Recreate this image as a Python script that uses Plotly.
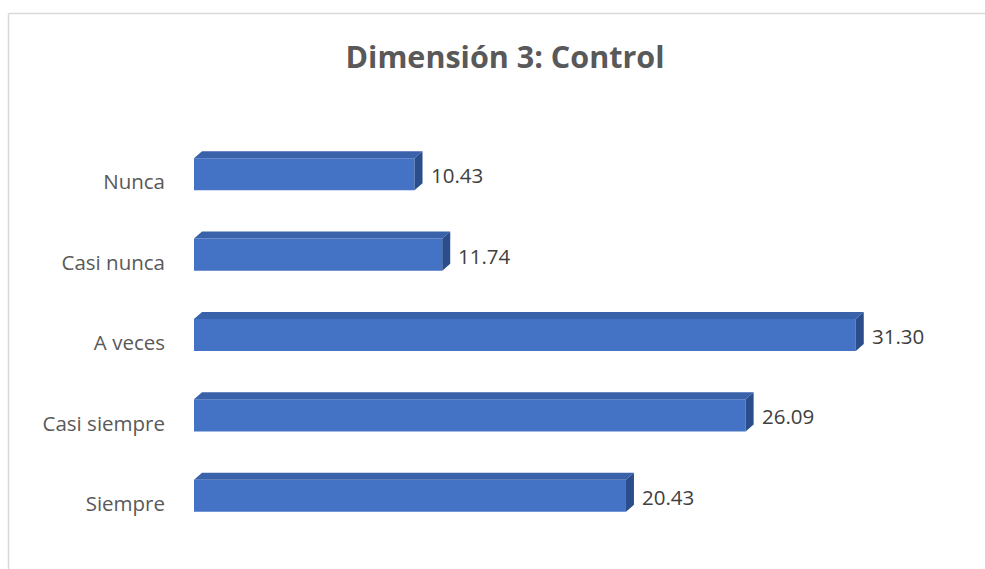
import plotly.graph_objects as go

categories = ["Nunca", "Casi nunca", "A veces", "Casi siempre", "Siempre"]
values = [10.43, 11.74, 31.30, 26.09, 20.43]
title_text = "Dimensión 3: Control"

W, H = 985, 569
ML, MR, MT, MB = 194, 51, 126, 25
XR = [0, 35]
YR = [-0.6, 4.6]
pw = W - ML - MR
ph = H - MT - MB
pxu = pw / (XR[1] - XR[0])
pyu = ph / (YR[1] - YR[0])

bw = 0.4
dx = 8 / pxu
dy = 7 / pyu

FRONT = "#4472c4"
TOP = "#3a62ab"
SIDE = "#2b4d8c"
FONT = "Open Sans"

n = len(categories)
ypos = [n - 1 - i for i in range(n)]

fig = go.Figure()
fig.add_trace(go.Bar(x=values, y=ypos, orientation="h", width=bw,
                     marker=dict(color=FRONT, line=dict(width=0)),
                     hoverinfo="skip", showlegend=False))
for v, y in zip(values, ypos):
    yt = y + bw / 2
    yb = y - bw / 2
    fig.add_trace(go.Scatter(x=[0, v, v + dx, dx, 0], y=[yt, yt, yt + dy, yt + dy, yt],
                             fill="toself", fillcolor=TOP, mode="lines",
                             line=dict(width=0, color=TOP), hoverinfo="skip", showlegend=False))
    fig.add_trace(go.Scatter(x=[v, v + dx, v + dx, v, v], y=[yb, yb + dy, yt + dy, yt, yb],
                             fill="toself", fillcolor=SIDE, mode="lines",
                             line=dict(width=0, color=SIDE), hoverinfo="skip", showlegend=False))

for v, y in zip(values, ypos):
    fig.add_annotation(x=v + dx, y=y, xref="x", yref="y", text=f"{v:.2f}",
                       showarrow=False, xanchor="left", yanchor="middle", xshift=6, yshift=-1,
                       font=dict(size=20.5, color="#404040", family=FONT))

lab_off = 8 / pyu
fig.update_layout(
    width=W, height=H,
    margin=dict(l=ML, r=MR, t=MT, b=MB),
    paper_bgcolor="white", plot_bgcolor="white",
    font=dict(family=FONT, color="#595959"),
    title=dict(text=f"<b>{title_text}</b>", x=(505) / W, xanchor="center",
               y=1 - 57 / H, yanchor="middle",
               font=dict(size=30.5, color="#595959", family=FONT)),
    xaxis=dict(range=XR, visible=False, showgrid=False, zeroline=False),
    yaxis=dict(range=YR, showgrid=False, zeroline=False, showline=False,
               tickvals=[y - lab_off for y in ypos], ticktext=categories,
               tickfont=dict(size=20.5, color="#595959", family=FONT),
               ticks="", ticklabelstandoff=28),
)

def px2paper_x(px):
    return (px - ML) / pw

def py2paper_y(py):
    return (H - MB - py) / ph

fig.add_shape(type="line", xref="paper", yref="paper",
              x0=px2paper_x(8.5), x1=px2paper_x(8.5), y0=py2paper_y(13.5), y1=py2paper_y(H + 5),
              line=dict(color="#d9d9d9", width=1.5))
fig.add_shape(type="line", xref="paper", yref="paper",
              x0=px2paper_x(8.5), x1=px2paper_x(W + 5), y0=py2paper_y(13.5), y1=py2paper_y(13.5),
              line=dict(color="#d9d9d9", width=1.5))

fig.write_html("out.html")
